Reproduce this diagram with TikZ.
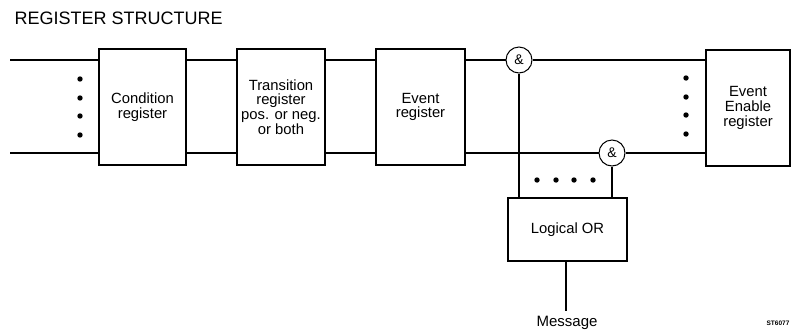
\documentclass[tikz,border=0pt]{standalone}
\usepackage{fontspec}
\setmainfont{Liberation Sans}
\begin{document}
\begin{tikzpicture}[x=1pt,y=-1pt,
  reg/.style={draw,line width=1.4pt,rectangle,align=center,inner sep=1pt,
    font=\fontsize{14.8}{14.7}\selectfont},
  andc/.style={draw,line width=1pt,circle,minimum size=26pt,inner sep=0pt,font=\fontsize{14}{14}\selectfont},
  wire/.style={line width=1.1pt},
  blob/.style={fill=black,circle,minimum size=5.4pt,inner sep=0pt}]
\useasboundingbox (0,0) rectangle (797,333);
\node[anchor=west,font=\fontsize{18}{18}\selectfont] (title) at (11,18) {REGISTER STRUCTURE};
\node[reg,minimum width=87pt,minimum height=116pt] (cond) at (142.5,107) {Condition\\register};
\node[reg,minimum width=88pt,minimum height=116pt] (trans) at (281,107) {Transition\\register\\pos. or neg.\\or both};
\node[reg,minimum width=89pt,minimum height=116pt] (ev) at (420.5,107) {Event\\register};
\node[reg,minimum width=84pt,minimum height=116pt] (ee) at (748,108) {Event\\Enable\\register};
\node[reg,minimum width=119pt,minimum height=63pt] (or) at (567.5,229.5) {Logical OR};
\node[andc] (a1) at (519,60) {\&};
\node[andc] (a2) at (612,153) {\&};
\node[font=\fontsize{15}{15}\selectfont] (msg) at (567,323) {Message};
\node[font=\fontsize{6.5}{7}\selectfont\bfseries] (code) at (778,323) {ST6077};
\coordinate (lt) at (10,60);
\coordinate (lb) at (10,153);
\coordinate (mend) at (566,311);
% top bus
\draw[wire] (lt) -- (lt -| cond.west);
\draw[wire] (cond.east |- lt) -- (trans.west |- lt);
\draw[wire] (trans.east |- lt) -- (ev.west |- lt);
\draw[wire] (ev.east |- lt) -- (a1);
\draw[wire] (a1) -- (ee.west |- a1);
% bottom bus
\draw[wire] (lb) -- (lb -| cond.west);
\draw[wire] (cond.east |- lb) -- (trans.west |- lb);
\draw[wire] (trans.east |- lb) -- (ev.west |- lb);
\draw[wire] (ev.east |- lb) -- (a2);
\draw[wire] (a2) -- (ee.west |- a2);
% to OR
\draw[wire] (a1) -- (a1 |- or.north);
\draw[wire] (a2) -- (a2 |- or.north);
\draw[wire] (mend |- or.south) -- (mend);
% dots
\foreach \y in {79,98,116,135} \node[blob] at (80,\y) {};
\foreach \y in {78,97,115,134} \node[blob] at (686,\y) {};
\foreach \x in {537,556,574,593} \node[blob] at (\x,180) {};
\end{tikzpicture}
\end{document}
